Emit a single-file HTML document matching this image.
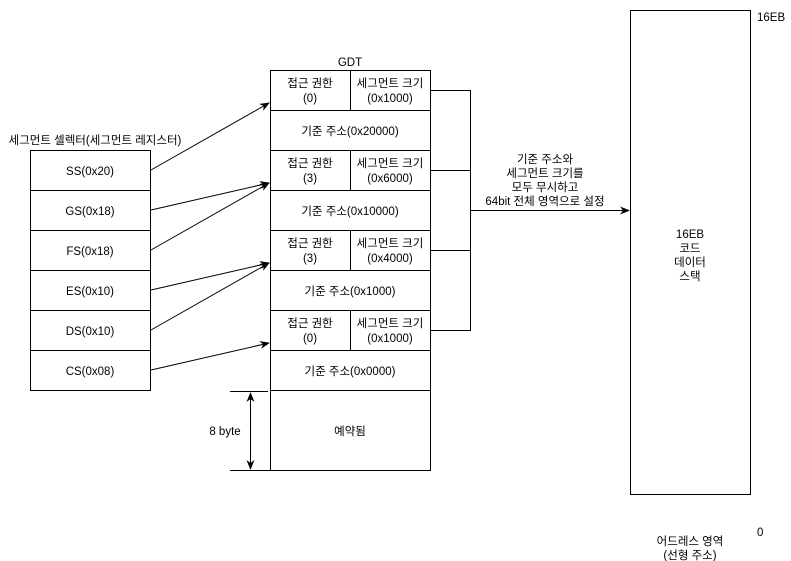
<!DOCTYPE html>
<html><head><meta charset="utf-8"><style>
html,body{margin:0;padding:0;background:#fff;}
svg{display:block;}
text{font-family:"Liberation Sans","Noto Sans CJK KR",sans-serif;font-size:11.5px;fill:#000;}
</style></head><body>
<svg width="791" height="561" viewBox="0 0 791 561" xmlns="http://www.w3.org/2000/svg">
<defs>
<marker id="a" markerWidth="10" markerHeight="8" refX="9" refY="4" orient="auto" markerUnits="userSpaceOnUse">
<path d="M0,0 L10,4 L0,8 L3,4 z" fill="#000"/></marker>
</defs>
<g fill="none" stroke="#000" stroke-width="1">
<!-- GDT -->
<rect x="270.5" y="70.5" width="160" height="400" fill="#fff"/>
<line x1="270" y1="110.5" x2="430" y2="110.5"/>
<line x1="270" y1="150.5" x2="430" y2="150.5"/>
<line x1="270" y1="190.5" x2="430" y2="190.5"/>
<line x1="270" y1="230.5" x2="430" y2="230.5"/>
<line x1="270" y1="270.5" x2="430" y2="270.5"/>
<line x1="270" y1="310.5" x2="430" y2="310.5"/>
<line x1="270" y1="350.5" x2="430" y2="350.5"/>
<line x1="270" y1="390.5" x2="430" y2="390.5"/>
<line x1="350.5" y1="70" x2="350.5" y2="110"/>
<line x1="350.5" y1="150" x2="350.5" y2="190"/>
<line x1="350.5" y1="230" x2="350.5" y2="270"/>
<line x1="350.5" y1="310" x2="350.5" y2="350"/>
<!-- selectors -->
<rect x="30.5" y="150.5" width="120" height="240"/>
<line x1="30" y1="190.5" x2="150" y2="190.5"/>
<line x1="30" y1="230.5" x2="150" y2="230.5"/>
<line x1="30" y1="270.5" x2="150" y2="270.5"/>
<line x1="30" y1="310.5" x2="150" y2="310.5"/>
<line x1="30" y1="350.5" x2="150" y2="350.5"/>
<!-- arrows -->
<line x1="151" y1="170" x2="269" y2="103" marker-end="url(#a)"/>
<line x1="151" y1="210" x2="269" y2="183" marker-end="url(#a)"/>
<line x1="151" y1="250" x2="269" y2="183" marker-end="url(#a)"/>
<line x1="151" y1="290" x2="269" y2="263" marker-end="url(#a)"/>
<line x1="151" y1="330" x2="269" y2="263" marker-end="url(#a)"/>
<line x1="151" y1="370" x2="269" y2="343" marker-end="url(#a)"/>
<!-- bracket -->
<polyline points="430,90.5 470.5,90.5 470.5,330.5 430,330.5"/>
<line x1="430" y1="170.5" x2="470" y2="170.5"/>
<line x1="430" y1="250.5" x2="470" y2="250.5"/>
<line x1="470" y1="210.5" x2="629" y2="210.5" marker-end="url(#a)"/>
<!-- address space -->
<rect x="630.5" y="10.5" width="120" height="484"/>
<!-- 8 byte -->
<line x1="230" y1="391.5" x2="268" y2="391.5"/>
<line x1="230" y1="470.5" x2="270" y2="470.5"/>
<line x1="250.5" y1="393" x2="250.5" y2="469" marker-end="url(#a)" marker-start="url(#b)"/>
</g>
<defs><marker id="b" markerWidth="10" markerHeight="8" refX="1" refY="4" orient="auto" markerUnits="userSpaceOnUse"><path d="M10,0 L0,4 L10,8 L7,4 z" fill="#000"/></marker></defs>
<g text-anchor="middle">
<text x="350" y="66">GDT</text>
<text x="310" y="87">접근 권한</text><text x="310" y="102">(0)</text>
<text x="390" y="87">세그먼트 크기</text><text x="390" y="102">(0x1000)</text>
<text x="350" y="135">기준 주소(0x20000)</text>
<text x="310" y="167">접근 권한</text><text x="310" y="182">(3)</text>
<text x="390" y="167">세그먼트 크기</text><text x="390" y="182">(0x6000)</text>
<text x="350" y="215">기준 주소(0x10000)</text>
<text x="310" y="247">접근 권한</text><text x="310" y="262">(3)</text>
<text x="390" y="247">세그먼트 크기</text><text x="390" y="262">(0x4000)</text>
<text x="350" y="295">기준 주소(0x1000)</text>
<text x="310" y="327">접근 권한</text><text x="310" y="342">(0)</text>
<text x="390" y="327">세그먼트 크기</text><text x="390" y="342">(0x1000)</text>
<text x="350" y="375">기준 주소(0x0000)</text>
<text x="350" y="435">예약됨</text>
<text x="95" y="144">세그먼트 셀렉터(세그먼트 레지스터)</text>
<text x="90" y="175">SS(0x20)</text>
<text x="90" y="215">GS(0x18)</text>
<text x="90" y="255">FS(0x18)</text>
<text x="90" y="295">ES(0x10)</text>
<text x="90" y="335">DS(0x10)</text>
<text x="90" y="375">CS(0x08)</text>
<text x="225" y="435">8 byte</text>
<text x="545" y="163">기준 주소와</text>
<text x="545" y="177">세그먼트 크기를</text>
<text x="545" y="191">모두 무시하고</text>
<text x="545" y="205">64bit 전체 영역으로 설정</text>
<text x="690" y="238">16EB</text>
<text x="690" y="252">코드</text>
<text x="690" y="266">데이터</text>
<text x="690" y="280">스택</text>
<text x="690" y="545">어드레스 영역</text>
<text x="690" y="559">(선형 주소)</text>
</g>
<text x="757" y="21">16EB</text>
<text x="757" y="536">0</text>
</svg>
</body></html>
